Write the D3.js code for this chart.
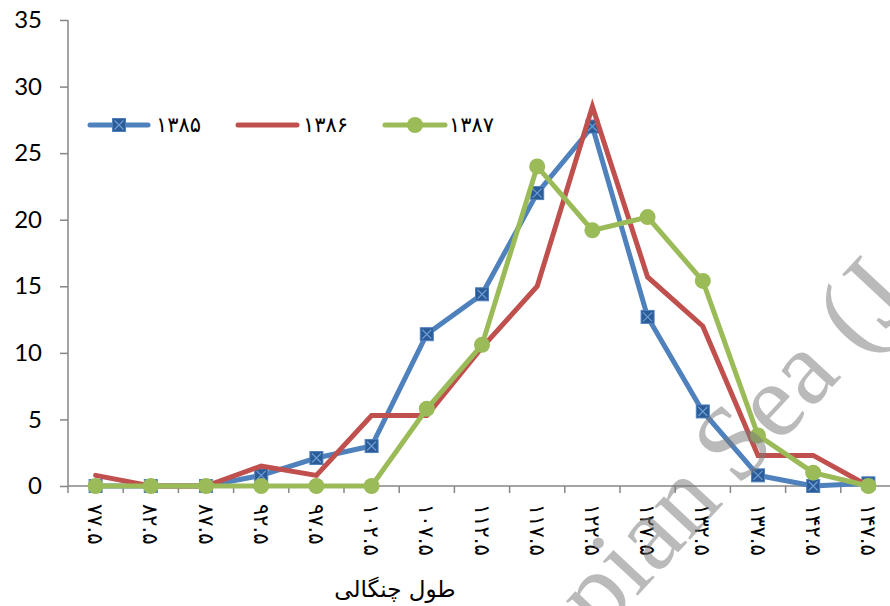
<!DOCTYPE html>
<html>
<head>
<meta charset="utf-8">
<script src="https://cdn.jsdelivr.net/npm/d3@7"></script>
<style>
  html, body { margin: 0; padding: 0; background: #fff; }
  svg { display: block; }
</style>
</head>
<body>
<svg id="chart" width="890" height="606"></svg>
<script>
// ---- data ----
const categories = ["۷۷.۵","۸۲.۵","۸۷.۵","۹۲.۵","۹۷.۵","۱۰۲.۵","۱۰۷.۵","۱۱۲.۵","۱۱۷.۵","۱۲۲.۵","۱۲۷.۵","۱۳۲.۵","۱۳۷.۵","۱۴۲.۵","۱۴۷.۵"];
const seriesNames = ["۱۳۸۵","۱۳۸۶","۱۳۸۷"];
const s1385 = [0, 0, 0, 0.8, 2.1, 3.0, 11.4, 14.4, 22.0, 27.0, 12.7, 5.6, 0.8, 0, 0.2];
const s1386 = [0.8, 0, 0, 1.5, 0.8, 5.3, 5.3, 10.4, 15.0, 28.5, 15.7, 12.0, 2.3, 2.3, 0];
const s1387 = [0, 0, 0, 0, 0, 0, 5.8, 10.6, 24.0, 19.2, 20.2, 15.4, 3.8, 1.0, 0];
const yTicks = [0, 5, 10, 15, 20, 25, 30, 35];
const xTitle = "طول چنگالی";
const watermarkA = "Caspian";
const watermarkB = "Sea (J";

const colors = ["#4F81BD", "#C0504D", "#9BBB59"];
const series = [s1385, s1386, s1387];

const svg = d3.select("#chart");
const axisColor = "#868686";

const x = d3.scaleBand().domain(categories).range([68, 896]).padding(0);
const y = d3.scaleLinear().domain([0, 35]).range([486, 20]);
const cx = c => x(c) + x.bandwidth() / 2;

// y axis
const yAxis = d3.axisLeft(y).tickValues(yTicks).tickSize(8).tickPadding(18);
const gy = svg.append("g").attr("transform", "translate(68,0)").call(yAxis);
gy.select(".domain").attr("stroke", axisColor).attr("stroke-width", 1.5)
  .attr("d", `M0,${y(35)}V${y(0) + 7}`);
gy.selectAll(".tick line").attr("stroke", axisColor).attr("stroke-width", 1.5);
gy.selectAll(".tick text").attr("fill", "#000")
  .style("font-family", "Lato, 'Liberation Sans', sans-serif").style("font-size", "24px");

// x axis
const gx = svg.append("g");
gx.append("line").attr("x1", 68).attr("x2", 890).attr("y1", y(0)).attr("y2", y(0))
  .attr("stroke", axisColor).attr("stroke-width", 1.5);
gx.selectAll("line.tk").data(categories.slice(1)).enter().append("line")
  .attr("class", "tk")
  .attr("x1", d => x(d)).attr("x2", d => x(d))
  .attr("y1", y(0)).attr("y2", y(0) + 7)
  .attr("stroke", axisColor).attr("stroke-width", 1.5);
gx.selectAll("text.lbl").data(categories).enter().append("text")
  .attr("class", "lbl")
  .attr("transform", d => `translate(${cx(d)},504) rotate(90)`)
  .attr("dy", "0.35em")
  .attr("text-anchor", "start")
  .attr("direction", "ltr")
  .style("font-family", "'DejaVu Sans', sans-serif")
  .style("font-size", "21px")
  .attr("fill", "#000")
  .text(d => d);

// x title
svg.append("text").attr("x", 395).attr("y", 597).attr("text-anchor", "middle")
  .style("font-family", "'DejaVu Sans', sans-serif").style("font-size", "23px")
  .attr("fill", "#000").attr("direction", "rtl").text(xTitle);

// lines
const line = d3.line().x((d, i) => cx(categories[i])).y(d => y(d));
function blueMarker(g, px, py, s) {
  g.append("rect").attr("x", px - s / 2).attr("y", py - s / 2).attr("width", s).attr("height", s)
    .attr("fill", "#2B5C98").attr("stroke", "#4F81BD").attr("stroke-width", 1);
  g.append("path").attr("d", `M${px - s / 2 + 2},${py - s / 2 + 2}L${px + s / 2 - 2},${py + s / 2 - 2}M${px + s / 2 - 2},${py - s / 2 + 2}L${px - s / 2 + 2},${py + s / 2 - 2}`)
    .attr("stroke", "#6C9BD2").attr("stroke-width", 1.3);
}
series.forEach((vals, k) => {
  const g = svg.append("g");
  g.append("path").datum(vals).attr("d", line).attr("fill", "none")
    .attr("stroke", colors[k]).attr("stroke-width", 5).attr("stroke-linejoin", "miter")
    .attr("stroke-linecap", "round");
  if (k === 0) {
    vals.forEach((v, i) => blueMarker(g, cx(categories[i]), y(v), 13));
  } else if (k === 2) {
    g.selectAll("circle").data(vals).enter().append("circle")
      .attr("cx", (d, i) => cx(categories[i])).attr("cy", d => y(d)).attr("r", 8)
      .attr("fill", colors[2]);
  }
});

// legend
const legendItems = [
  { x0: 90, x1: 148, tx: 156 },
  { x0: 238, x1: 297, tx: 303 },
  { x0: 385, x1: 445, tx: 449 }
];
const lg = svg.append("g");
legendItems.forEach((it, k) => {
  const ly = 125;
  lg.append("line").attr("x1", it.x0).attr("x2", it.x1).attr("y1", ly).attr("y2", ly)
    .attr("stroke", colors[k]).attr("stroke-width", 5).attr("stroke-linecap", "round");
  const mx = (it.x0 + it.x1) / 2;
  if (k === 0) blueMarker(lg, mx, ly, 13);
  if (k === 2) lg.append("circle").attr("cx", mx).attr("cy", ly).attr("r", 8).attr("fill", colors[2]);
  lg.append("text").attr("x", it.tx).attr("y", ly).attr("dy", "0.35em")
    .style("font-family", "'DejaVu Sans', sans-serif").style("font-size", "21px")
    .attr("fill", "#000").text(seriesNames[k]);
});

// watermark
const wm = svg.append("g").attr("transform", "translate(738,488) rotate(-47)")
  .style("font-family", "'Liberation Serif', serif").style("font-size", "106px")
  .attr("fill", "#7a7a7a").attr("fill-opacity", 0.52);
wm.append("text").attr("x", -20).attr("text-anchor", "end").text(watermarkA);
wm.append("text").attr("x", 0).attr("text-anchor", "start").text(watermarkB);
</script>
</body>
</html>
